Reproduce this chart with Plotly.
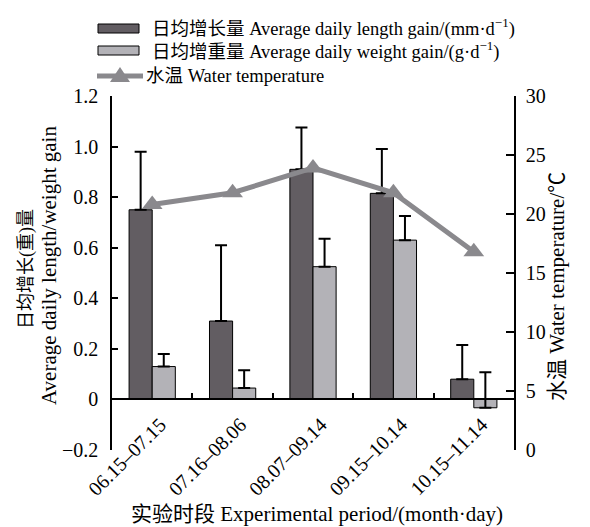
import plotly.graph_objects as go

# ---- data ----
periods = ["06.15–07.15", "07.16–08.06", "08.07–09.14", "09.15–10.14", "10.15–11.14"]
length_gain = [0.75, 0.31, 0.91, 0.815, 0.08]
length_err = [0.23, 0.30, 0.165, 0.175, 0.135]
weight_gain = [0.13, 0.045, 0.525, 0.63, -0.033]
weight_err = [0.05, 0.07, 0.11, 0.095, 0.14]
water_temp = [20.8, 21.8, 23.9, 21.8, 16.8]

left_ticks = [-0.2, 0, 0.2, 0.4, 0.6, 0.8, 1.0, 1.2]
left_ticktext = ["−0.2", "0", "0.2", "0.4", "0.6", "0.8", "1.0", "1.2"]
right_ticks = [0, 5, 10, 15, 20, 25, 30]

DARK = "#625d62"
LIGHT = "#b3b2b7"
GREY = "#8a898d"
FONT = "'Liberation Serif', 'Noto Sans CJK SC', serif"

W, H = 590, 527
L, R, T, B = 112, 514, 96, 450


def px(x):
    return (x - L) / (R - L)


def py(y):
    return (B - y) / (B - T)


fig = go.Figure()
fig.add_trace(go.Bar(
    x=periods, y=length_gain, name="日均增长量",
    marker=dict(color=DARK, line=dict(color="black", width=1)),
    error_y=dict(type="data", symmetric=False, array=length_err,
                 arrayminus=[0] * len(length_err), color="black", thickness=2, width=6),
    showlegend=False,
))
fig.add_trace(go.Bar(
    x=periods, y=weight_gain, name="日均增重量",
    marker=dict(color=LIGHT, line=dict(color="black", width=1)),
    error_y=dict(type="data", symmetric=False, array=weight_err,
                 arrayminus=[0] * len(weight_err), color="black", thickness=2, width=6),
    showlegend=False,
))
fig.add_trace(go.Scatter(
    x=periods, y=water_temp, yaxis="y2", mode="lines+markers", name="水温",
    line=dict(color=GREY, width=5),
    marker=dict(symbol="triangle-up", size=18, color=GREY),
    showlegend=False,
))

# manual legend
shapes = [
    dict(type="rect", xref="paper", yref="paper", x0=px(98), x1=px(139), y0=py(33), y1=py(24),
         fillcolor=DARK, line=dict(color="black", width=1)),
    dict(type="rect", xref="paper", yref="paper", x0=px(98), x1=px(139), y0=py(55), y1=py(46),
         fillcolor=LIGHT, line=dict(color="black", width=1)),
    dict(type="line", xref="paper", yref="paper", x0=px(97), x1=px(143), y0=py(76), y1=py(76),
         line=dict(color=GREY, width=5)),
    dict(type="path", xref="paper", yref="paper",
         path=f"M{px(110)},{py(82)} L{px(130)},{py(82)} L{px(120)},{py(67)} Z",
         fillcolor=GREY, line=dict(color=GREY, width=0)),
]

annotations = [
    dict(text="日均增长量 Average daily length gain/(mm·d<sup>−1</sup>)", x=px(150), y=py(27),
         xanchor="left", yanchor="middle", size=18.5),
    dict(text="日均增重量 Average daily weight gain/(g·d<sup>−1</sup>)", x=px(150), y=py(51),
         xanchor="left", yanchor="middle", size=18.5),
    dict(text="水温 Water temperature", x=px(144), y=py(76),
         xanchor="left", yanchor="middle", size=18.5),
    dict(text="日均增长(重)量", x=px(26), y=py(269), textangle=-90,
         xanchor="center", yanchor="middle", size=18),
    dict(text="Average daily length/weight gain", x=px(49), y=py(266), textangle=-90,
         xanchor="center", yanchor="middle", size=21),
    dict(text="水温 Water temperature/℃", x=px(557), y=py(287), textangle=-90,
         xanchor="center", yanchor="middle", size=21),
    dict(text="实验时段 Experimental period/(month·day)", x=px(317), y=py(514),
         xanchor="center", yanchor="middle", size=21),
]
for a in annotations:
    s = a.pop("size")
    a.update(xref="paper", yref="paper", showarrow=False,
             font=dict(family=FONT, size=s, color="black"))

fig.update_layout(
    width=W, height=H,
    margin=dict(l=L, r=W - R, t=T, b=H - B, pad=0),
    paper_bgcolor="white", plot_bgcolor="white",
    barmode="group", bargap=0.425, bargroupgap=0,
    font=dict(family=FONT, size=20, color="black"),
    shapes=shapes, annotations=annotations,
    xaxis=dict(
        type="category", anchor="free", position=0.2 / 1.4,
        showline=True, linecolor="black", linewidth=1.5,
        ticks="inside", tickson="boundaries", ticklen=6, tickwidth=1.5, tickcolor="black",
        tickangle=-45, tickfont=dict(family=FONT, size=20),
        ticklabelshift=8, ticklabelstandoff=5,
        showgrid=False, zeroline=False,
    ),
    yaxis=dict(
        range=[-0.2, 1.2], tickvals=left_ticks, ticktext=left_ticktext,
        showline=True, linecolor="black", linewidth=1.5,
        ticks="inside", ticklen=6, tickwidth=1.5, tickcolor="black",
        ticklabelstandoff=8, tickfont=dict(family=FONT, size=20),
        showgrid=False, zeroline=False,
    ),
    yaxis2=dict(
        range=[0, 30], tickvals=right_ticks, overlaying="y", side="right",
        showline=True, linecolor="black", linewidth=1.5,
        ticks="inside", ticklen=8, tickwidth=1.5, tickcolor="black",
        ticklabelstandoff=6, tickfont=dict(family=FONT, size=20),
        showgrid=False, zeroline=False,
    ),
)

fig.write_html("out.html")
